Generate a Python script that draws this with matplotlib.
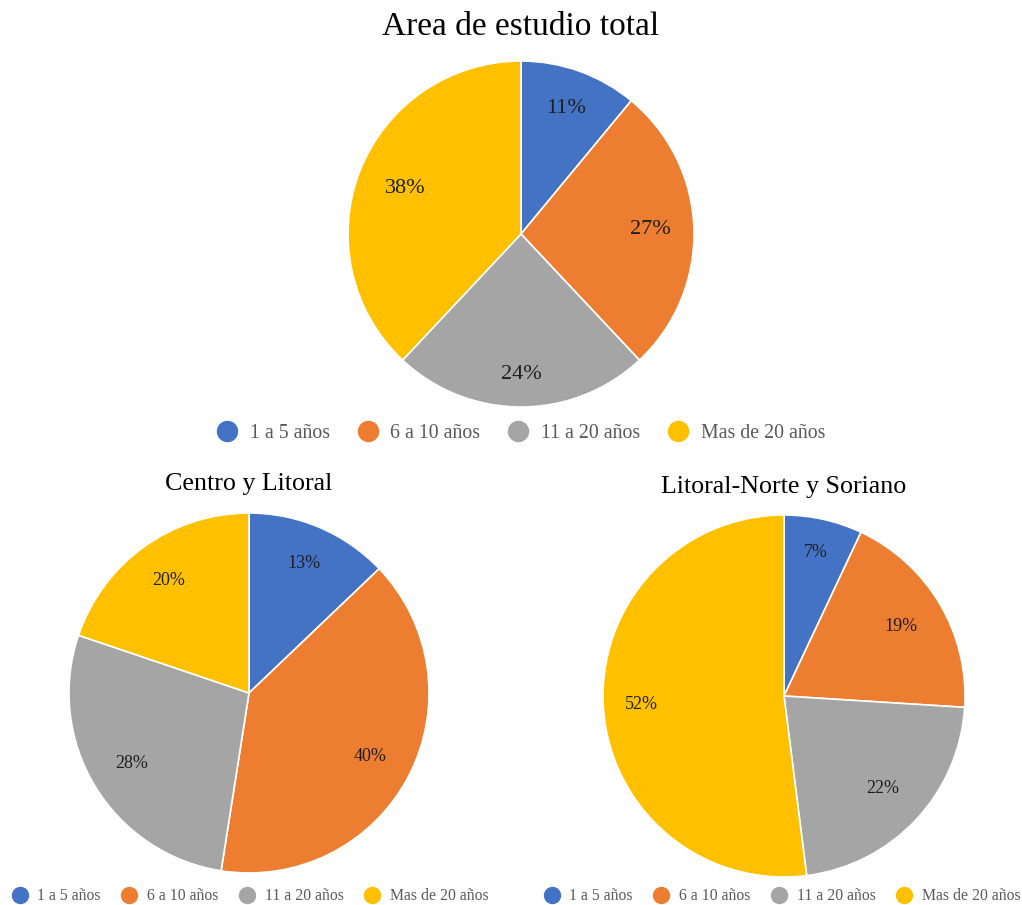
import numpy as np
import matplotlib
matplotlib.use("Agg")
import matplotlib.pyplot as plt
from matplotlib.lines import Line2D

plt.rcParams['font.family'] = ['Liberation Serif', 'DejaVu Serif']

categories = ["1 a 5 años", "6 a 10 años", "11 a 20 años", "Mas de 20 años"]
colors = ["#4472C4", "#ED7D31", "#A5A5A5", "#FFC000"]

total_vals = [11, 27, 24, 38]
centro_vals = [13, 40, 28, 20]
norte_vals = [7, 19, 22, 52]

titles = ["Area de estudio total", "Centro y Litoral", "Litoral-Norte y Soriano"]

W, H = 1022, 905
fig = plt.figure(figsize=(W / 100, H / 100), dpi=100)


def pie_axes(cx, cy, r):
    return fig.add_axes([(cx - r) / W, (H - cy - r) / H, 2 * r / W, 2 * r / H])


def draw(ax, vals, pct_r, fs):
    wedges, texts, autotexts = ax.pie(
        vals, colors=colors, startangle=90, counterclock=False,
        autopct='%.0f%%', radius=1,
        wedgeprops=dict(edgecolor='white', linewidth=1.2),
        textprops=dict(fontsize=fs, color='#1f1f1f'))
    for w, t, pr in zip(wedges, autotexts, pct_r):
        ang = np.deg2rad((w.theta1 + w.theta2) / 2)
        t.set_position((pr * np.cos(ang), pr * np.sin(ang)))
    ax.set_xlim(-1, 1)
    ax.set_ylim(-1, 1)
    ax.set_aspect('equal')
    ax.axis('off')


ax1 = pie_axes(521, 234, 173)
draw(ax1, total_vals, [0.77, 0.75, 0.81, 0.72], 16)
ax2 = pie_axes(249, 693, 180)
draw(ax2, centro_vals, [0.78, 0.76, 0.76, 0.77], 13)
ax3 = pie_axes(784, 696, 181)
draw(ax3, norte_vals, [0.81, 0.75, 0.75, 0.79], 13)

fig.text(521 / W, 1 - 27 / H, titles[0], ha='center', va='center', fontsize=24)
fig.text(249 / W, 1 - 484 / H, titles[1], ha='center', va='center', fontsize=18.7)
fig.text(784 / W, 1 - 487 / H, titles[2], ha='center', va='center', fontsize=18.7)


def legend(cx, cy, fs, ms, tpad, colsp):
    handles = [Line2D([], [], marker='o', linestyle='none', markersize=ms,
                      markerfacecolor=c, markeredgecolor=c) for c in colors]
    fig.legend(handles, categories, loc='center', ncol=4,
               bbox_to_anchor=(cx / W, 1 - cy / H), frameon=False,
               fontsize=fs, handletextpad=tpad, columnspacing=colsp,
               handlelength=1.0, labelcolor='#595959')


legend(521, 433, 14.3, 14.4, 0.65, 1.4)
legend(250, 896, 11.3, 11.5, 0.64, 1.3)
legend(782, 896, 11.3, 11.5, 0.64, 1.3)

fig.savefig("out.png", dpi=100)
